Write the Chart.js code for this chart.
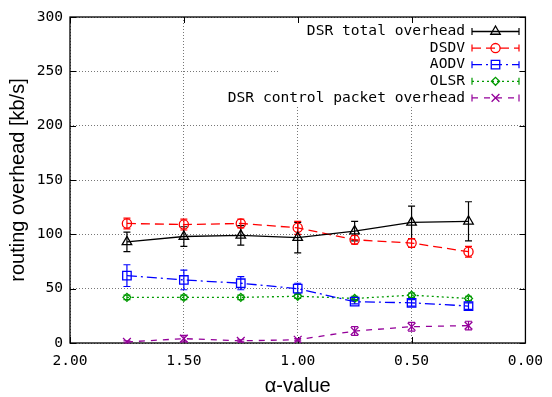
<!DOCTYPE html>
<html><head><meta charset="utf-8">
<script src="https://cdn.jsdelivr.net/npm/chart.js@4/dist/chart.umd.min.js"></script>
<style>html,body{margin:0;padding:0;background:#fff}#wrap{width:552px;height:397px}</style>
</head><body><div id="wrap"><canvas id="c" width="552" height="397"></canvas></div>
<script>
// ---- data ----
const alphaValues = [1.75, 1.5, 1.25, 1.0, 0.75, 0.5, 0.25];
const dsrTotal    = [93, 98, 99, 97, 103, 111, 112];
const dsrTotalErr = [9, 9, 9, 14, 9, 15, 18];
const dsdv        = [110, 109, 110, 106, 95, 92, 84];
const dsdvErr     = [5, 5, 4, 6, 4, 4, 5];
const aodv        = [62, 58, 55, 50, 38, 37, 34];
const aodvErr     = [10, 9, 6, 5, 2, 3, 3];
const olsr        = [42, 42, 42, 43, 41, 44, 41];
const olsrErr     = [2, 2, 2, 2, 2, 2, 2];
const dsrCtrl     = [1, 4, 2, 3, 11, 15, 16];
const dsrCtrlErr  = [1, 3, 1, 1, 4, 4, 4];
const yTickValues = [0, 50, 100, 150, 200, 250, 300];
const xTickValues = [2.0, 1.5, 1.0, 0.5, 0.0];
const seriesNames = ['DSR total overhead', 'DSDV', 'AODV', 'OLSR', 'DSR control packet overhead'];
const xTitle = 'α-value';
const yTitle = 'routing overhead [kb/s]';

// ---- styles ----
const MONO = '"DejaVu Sans Mono", monospace';
const SANS = '"Liberation Sans", Arial, sans-serif';
const styles = [
  {color:'#000000', dash:[],            point:'triangle', r:5.5},
  {color:'#ff0000', dash:[9,5],         point:'circle',   r:4.6},
  {color:'#0000ff', dash:[10,4,2,4],    point:'rect',     r:6},
  {color:'#009a00', dash:[2,3],         point:'rectRot',  r:4},
  {color:'#94009a', dash:[6,6],         point:'crossRot', r:5.5}
];
const seriesValues = [dsrTotal, dsdv, aodv, olsr, dsrCtrl];
const seriesErrors = [dsrTotalErr, dsdvErr, aodvErr, olsrErr, dsrCtrlErr];

const datasets = seriesNames.map((name, i) => ({
  label: name,
  data: alphaValues.map((x, j) => ({x: x, y: seriesValues[i][j]})),
  errors: seriesErrors[i],
  borderColor: styles[i].color,
  borderWidth: 1.3,
  borderDash: styles[i].dash,
  pointStyle: styles[i].point,
  pointRadius: styles[i].r,
  pointBorderWidth: 1.3,
  pointBorderColor: styles[i].color,
  pointBackgroundColor: 'rgba(0,0,0,0)',
  fill: false,
  tension: 0
}));

const extras = {
  id: 'extras',
  beforeDatasetsDraw(chart) {
    const ctx = chart.ctx, a = chart.chartArea;
    const xs = chart.scales.x, ys = chart.scales.y;
    ctx.save();
    // legend background (hides grid)
    ctx.fillStyle = '#fff';
    ctx.fillRect(279, a.top + 1, a.right - 280, 88);
    // frame
    ctx.strokeStyle = '#000'; ctx.lineWidth = 1.3; ctx.setLineDash([]);
    ctx.strokeRect(a.left, a.top, a.right - a.left, a.bottom - a.top);
    // mirror inward ticks
    ctx.lineWidth = 1;
    ctx.beginPath();
    xTickValues.forEach(v => {
      const px = Math.round(xs.getPixelForValue(v)) + 0.5;
      ctx.moveTo(px, a.bottom); ctx.lineTo(px, a.bottom - 6);
      ctx.moveTo(px, a.top); ctx.lineTo(px, a.top + 6);
    });
    yTickValues.forEach(v => {
      const py = Math.round(ys.getPixelForValue(v)) + 0.5;
      ctx.moveTo(a.left, py); ctx.lineTo(a.left + 6, py);
      ctx.moveTo(a.right, py); ctx.lineTo(a.right - 6, py);
    });
    ctx.stroke();
    // error bars
    chart.data.datasets.forEach(ds => {
      ctx.strokeStyle = ds.borderColor; ctx.lineWidth = 1.2;
      ctx.beginPath();
      ds.data.forEach((p, j) => {
        const e = ds.errors[j];
        const px = xs.getPixelForValue(p.x);
        const yt = ys.getPixelForValue(p.y + e);
        const yb = ys.getPixelForValue(Math.max(p.y - e, 0));
        ctx.moveTo(px, yt); ctx.lineTo(px, yb);
        ctx.moveTo(px - 3.5, yt); ctx.lineTo(px + 3.5, yt);
        ctx.moveTo(px - 3.5, yb); ctx.lineTo(px + 3.5, yb);
      });
      ctx.stroke();
    });
    ctx.restore();
  },
  afterDatasetsDraw(chart) {
    const ctx = chart.ctx;
    ctx.save();
    const textRight = 465, x0 = 472, x1 = 519, xm = (x0 + x1) / 2;
    chart.data.datasets.forEach((ds, i) => {
      const y = 31.5 + i * 16.6;
      ctx.fillStyle = '#000';
      ctx.font = '14.6px ' + MONO;
      ctx.textAlign = 'right'; ctx.textBaseline = 'middle';
      ctx.fillText(ds.label, textRight, y);
      ctx.strokeStyle = ds.borderColor; ctx.lineWidth = 1.3;
      ctx.setLineDash(ds.borderDash);
      ctx.beginPath(); ctx.moveTo(x0, y); ctx.lineTo(x1, y); ctx.stroke();
      ctx.setLineDash([]);
      ctx.lineWidth = 1.2;
      ctx.beginPath();
      ctx.moveTo(x0, y - 3.5); ctx.lineTo(x0, y + 3.5);
      ctx.moveTo(x1, y - 3.5); ctx.lineTo(x1, y + 3.5);
      ctx.stroke();
      ctx.lineWidth = 1.3;
      Chart.helpers.drawPoint(ctx, {pointStyle: ds.pointStyle, rotation: 0, borderWidth: 1.3}, xm, y);
      ctx.beginPath();
      ctx.strokeStyle = ds.borderColor;
      ctx.fillStyle = 'rgba(0,0,0,0)';
      Chart.helpers.drawPoint(ctx, {pointStyle: ds.pointStyle, rotation: 0, borderWidth: 1.3, radius: ds.pointRadius}, xm, y);
    });
    ctx.restore();
  }
};

new Chart(document.getElementById('c'), {
  type: 'line',
  data: {datasets: datasets},
  plugins: [extras],
  options: {
    responsive: false,
    animation: false,
    devicePixelRatio: 1,
    layout: {padding: {left: 0, right: 20, top: 17, bottom: 0}},
    plugins: {legend: {display: false}, tooltip: {enabled: false}},
    events: [],
    scales: {
      x: {
        type: 'linear', reverse: true, min: 0, max: 2,
        afterBuildTicks: s => { s.ticks = xTickValues.map(v => ({value: v})); },
        afterFit: s => { s.height = 54; },
        ticks: {callback: v => Number(v).toFixed(2), font: {family: MONO, size: 14.6}, color: '#000', padding: 9, maxRotation: 0, autoSkip: false},
        grid: {color: '#777', lineWidth: 1, drawTicks: false},
        border: {display: false, dash: [1, 2]},
        title: {display: true, text: xTitle, color: '#000', font: {family: SANS, size: 20, lineHeight: 1}, padding: {top: 0, bottom: 1}}
      },
      y: {
        min: 0, max: 300,
        afterBuildTicks: s => { s.ticks = yTickValues.map(v => ({value: v})); },
        afterFit: s => { s.width = 70; },
        ticks: {font: {family: MONO, size: 14.6}, color: '#000', padding: 7},
        grid: {color: '#777', lineWidth: 1, drawTicks: false},
        border: {display: false, dash: [1, 2]},
        title: {display: true, text: yTitle, color: '#000', font: {family: SANS, size: 20, lineHeight: 1}, padding: {top: 8, bottom: 0}}
      }
    }
  }
});
</script></body></html>
